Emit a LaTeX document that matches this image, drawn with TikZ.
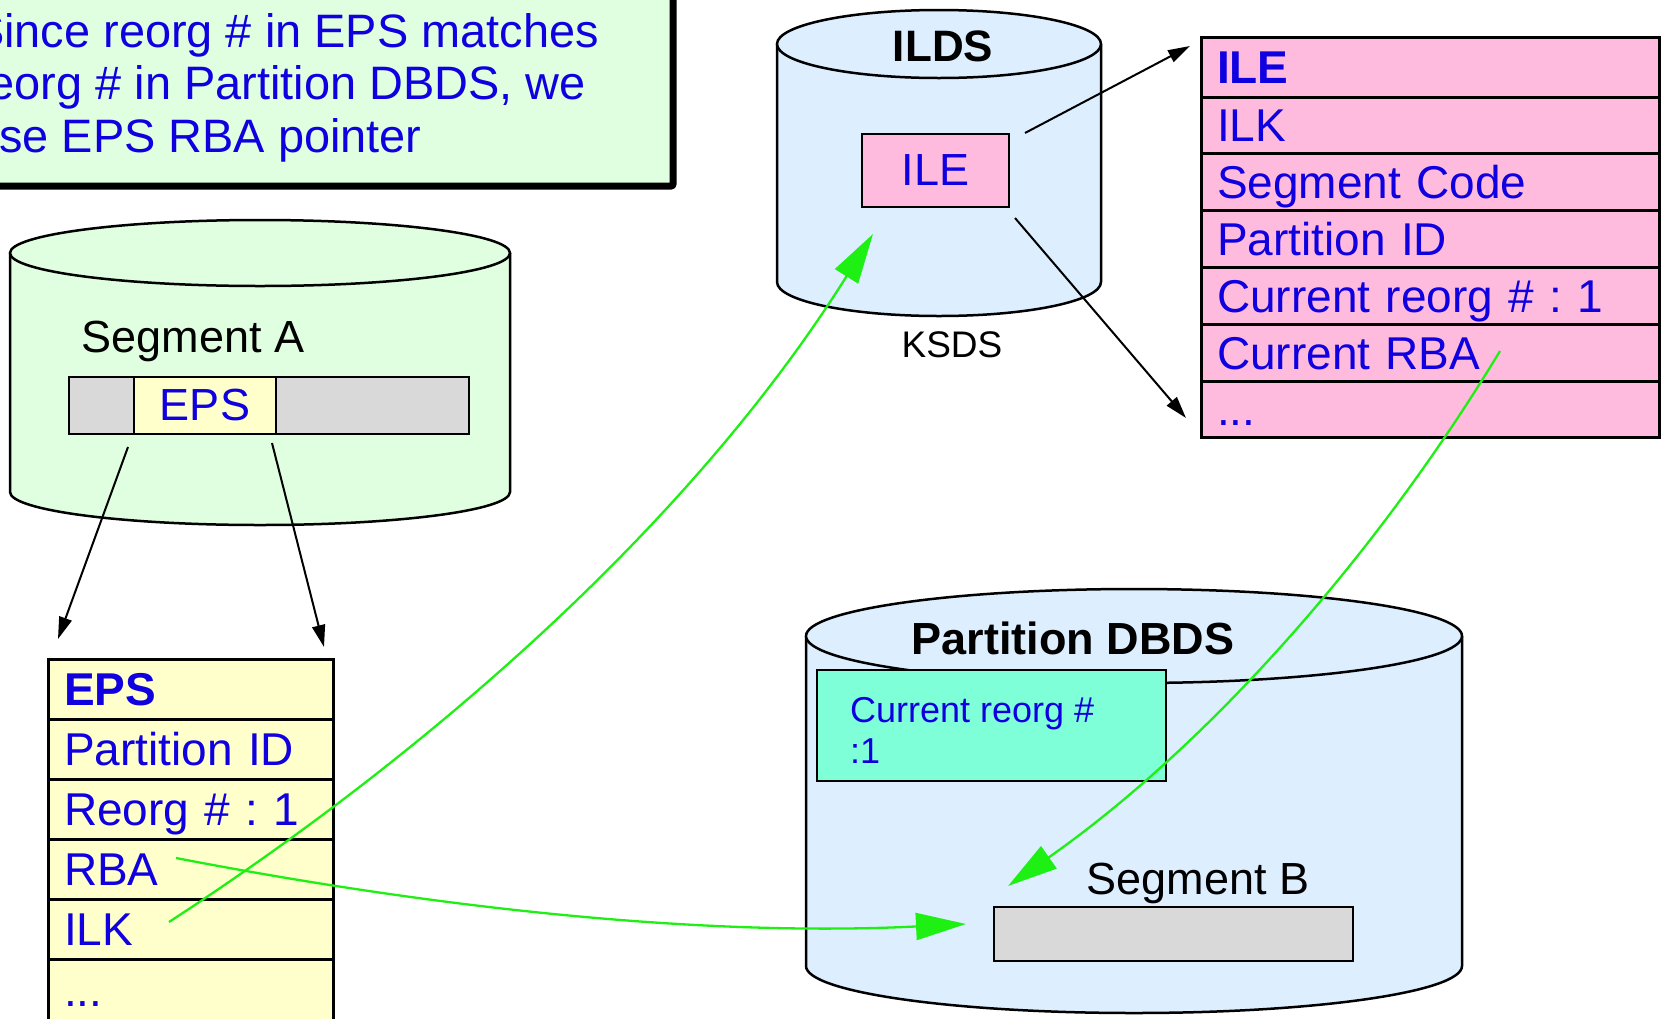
\documentclass[tikz,border=0pt]{standalone}
\usepackage{fontspec}
\setmainfont{Liberation Sans}
\usetikzlibrary{arrows.meta}
\frenchspacing

\definecolor{inkblue}{RGB}{16,0,224}
\definecolor{notegreen}{RGB}{224,255,224}
\definecolor{diskblue}{RGB}{221,238,255}
\definecolor{ilepink}{RGB}{255,187,221}
\definecolor{epsyellow}{RGB}{255,255,204}
\definecolor{bargray}{RGB}{217,217,217}
\definecolor{reorgaqua}{RGB}{127,255,216}
\definecolor{linkgreen}{RGB}{30,240,20}

% database cylinder: centre x, top-ellipse y, bottom-ellipse y, x radius, y radius, fill
\newcommand\dbcyl[6]{%
  \fill[#6] ({#1-#4},#2) -- ({#1-#4},#3)
    .. controls ({#1-#4},{#3+0.5523*#5}) and ({#1-0.5523*#4},{#3+#5}) .. (#1,{#3+#5})
    .. controls ({#1+0.5523*#4},{#3+#5}) and ({#1+#4},{#3+0.5523*#5}) .. ({#1+#4},#3)
    -- ({#1+#4},#2) -- cycle;
  \draw[cylline] ({#1-#4},#2) -- ({#1-#4},#3)
    .. controls ({#1-#4},{#3+0.5523*#5}) and ({#1-0.5523*#4},{#3+#5}) .. (#1,{#3+#5})
    .. controls ({#1+0.5523*#4},{#3+#5}) and ({#1+#4},{#3+0.5523*#5}) .. ({#1+#4},#3)
    -- ({#1+#4},#2);
  \draw[cylline,fill=#6] (#1,#2) ellipse [x radius=#4, y radius=#5];
}

\begin{document}
\begin{tikzpicture}[x=1pt,y=-1pt,
  cylline/.style={line width=2.5pt},
  bigfont/.style={font=\fontsize{45}{53}\selectfont},
  rowfont/.style={font=\fontsize{46}{53}\selectfont},
  tabrow/.style={draw, line width=3pt, outer sep=0pt, anchor=north west,
    inner xsep=16pt, inner ysep=0pt, text height=33pt, text depth=0pt,
    align=left, text=inkblue, rowfont},
  epsrow/.style={tabrow, fill=epsyellow, text width=253pt, minimum height=60pt},
  ilerow/.style={tabrow, fill=ilepink, text width=426pt, minimum height=56.8pt},
  barcell/.style={draw, line width=2.5pt, outer sep=0pt, anchor=north west,
    inner sep=0pt, minimum height=57pt, text=inkblue, bigfont},
  notetext/.style={anchor=base west, inner sep=0pt, text=inkblue,
    font=\fontsize{46.9}{53}\selectfont},
  disklabel/.style={anchor=base, inner sep=0pt},
  blackarrow/.style={line width=2pt, -{Triangle[length=22pt,width=13pt]}},
  greenlink/.style={draw=linkgreen, line width=2.3pt,
    -{Triangle[length=50pt,width=27pt,fill=linkgreen]}}]

\useasboundingbox (0,0) rectangle (1662,1018);

% explanatory note
\node[draw, line width=7pt, fill=notegreen, rounded corners=2pt, outer sep=0pt,
  minimum width=693pt, minimum height=206pt, inner sep=0pt] (note) at (326.5,83) {};
\node[notetext] (note1) at (-27,47) {Since reorg \# in EPS matches};
\node[notetext] (note2) at (-27,99.5) {reorg \# in Partition DBDS, we};
\node[notetext] (note3) at (-27,152) {use EPS RBA pointer};

% disks
\dbcyl{260}{253}{492}{250}{33}{notegreen}
\dbcyl{939}{44}{282}{162}{34}{diskblue}
\dbcyl{1134}{636}{966}{328}{47}{diskblue}

% Segment A with its EPS
\node[disklabel, font=\fontsize{45}{50}\selectfont] (labA) at (193,352) {Segment A};
\node[barcell, fill=bargray, minimum width=65pt] (barA1) at (69,377) {};
\node[barcell, fill=epsyellow, minimum width=142pt] (barEPS) at (134,377) {EPS};
\node[barcell, fill=bargray, minimum width=193pt] (barA2) at (276,377) {};

% ILDS
\node[disklabel, font=\fontsize{44}{50}\selectfont\bfseries] (ilds) at (943,61) {ILDS};
\node[disklabel, font=\fontsize{37}{44}\selectfont] (ksds) at (952,357) {KSDS};
\node[draw, line width=2.5pt, fill=ilepink, outer sep=0pt, minimum width=147pt,
  minimum height=73pt, text=inkblue, bigfont] (ilebox) at (935.5,170.5) {ILE};

% Partition DBDS
\node[disklabel, font=\fontsize{45}{50}\selectfont\bfseries] (pdbds) at (1073,654) {Partition DBDS};
\node[draw, line width=2.5pt, fill=reorgaqua, outer sep=0pt, minimum width=349pt,
  minimum height=111pt, anchor=north west, inner sep=0pt] (reorgbox) at (817,670) {};
\node[anchor=base west, inner sep=0pt, align=left, text=inkblue,
  font=\fontsize{36}{41}\selectfont] (reorgtext) at (850,763)
  {Current reorg \#\\:1};
\node[disklabel, font=\fontsize{45}{50}\selectfont] (labB) at (1198,894) {Segment B};
\node[draw, line width=2.5pt, fill=bargray, outer sep=0pt, minimum width=359pt,
  minimum height=54pt] (barB) at (1173.5,934) {};

% EPS layout
\node[epsrow] (eps0) at (48,659) {\bfseries EPS};
\node[epsrow] (eps1) at (eps0.south west) {Partition ID};
\node[epsrow] (eps2) at (eps1.south west) {Reorg \# : 1};
\node[epsrow] (eps3) at (eps2.south west) {RBA};
\node[epsrow] (eps4) at (eps3.south west) {ILK};
\node[epsrow, minimum height=62pt] (eps5) at (eps4.south west) {...};

% ILE layout
\node[ilerow, minimum height=60pt] (ile0) at (1201,37) {\bfseries ILE};
\node[ilerow] (ile1) at (ile0.south west) {ILK};
\node[ilerow] (ile2) at (ile1.south west) {Segment Code};
\node[ilerow] (ile3) at (ile2.south west) {Partition ID};
\node[ilerow] (ile4) at (ile3.south west) {Current reorg \# : 1};
\node[ilerow] (ile5) at (ile4.south west) {Current RBA};
\node[ilerow] (ile6) at (ile5.south west) {...};

% connector ends
\coordinate (epsfromL) at (128,447);
\coordinate (epstoL) at (58,639);
\coordinate (epsfromR) at (272,443);
\coordinate (epstoR) at (324,647);
\coordinate (ilefromT) at (1025,133);
\coordinate (iletoT) at (1190,46);
\coordinate (ilefromB) at (1015,218);
\coordinate (iletoB) at (1186,418);
\coordinate (ilkstart) at (169,922);
\coordinate (ileend) at (873,234);
\coordinate (rbastart) at (176,858);
\coordinate (segbend) at (966,924);
\coordinate (crbastart) at (1500,351);
\coordinate (segbtop) at (1008,886);

% layout arrows
\draw[blackarrow] (epsfromL) -- (epstoL);
\draw[blackarrow] (epsfromR) -- (epstoR);
\draw[blackarrow] (ilefromT) -- (iletoT);
\draw[blackarrow] (ilefromB) -- (iletoB);

% pointer chains
\draw[greenlink] (ilkstart) .. controls (444,743) and (699,512) .. (ileend);
\draw[greenlink] (rbastart) .. controls (435,908) and (702,937) .. (segbend);
\draw[greenlink] (crbastart) .. controls (1375,558) and (1206,747) .. (segbtop);

\end{tikzpicture}
\end{document}
